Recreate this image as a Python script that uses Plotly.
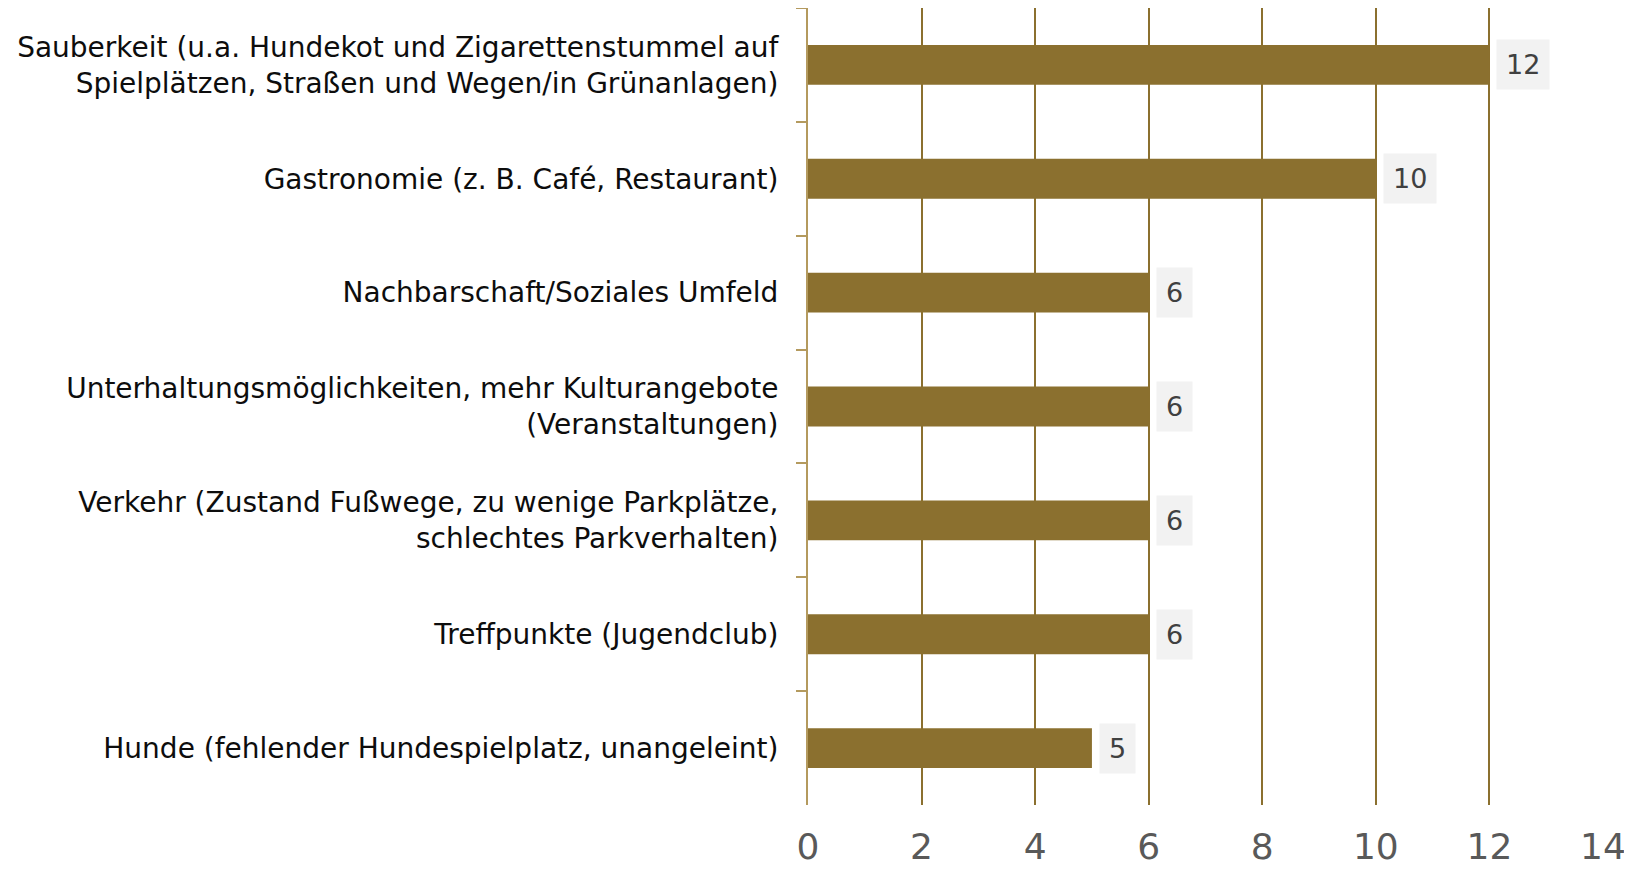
import plotly.graph_objects as go

categories = [
    "Sauberkeit (u.a. Hundekot und Zigarettenstummel auf<br>Spielplätzen, Straßen und Wegen/in Grünanlagen)",
    "Gastronomie (z. B. Café, Restaurant)",
    "Nachbarschaft/Soziales Umfeld",
    "Unterhaltungsmöglichkeiten, mehr Kulturangebote<br>(Veranstaltungen)",
    "Verkehr (Zustand Fußwege, zu wenige Parkplätze,<br>schlechtes Parkverhalten)",
    "Treffpunkte (Jugendclub)",
    "Hunde (fehlender Hundespielplatz, unangeleint)",
]
values = [12, 10, 6, 6, 6, 6, 5]
x_ticks = [0, 2, 4, 6, 8, 10, 12, 14]

BAR = "#8B702F"
GRID = "#8B702F"
AXIS = "#B49A5E"
FONT = "DejaVu Sans"

fig = go.Figure()
fig.add_trace(go.Bar(
    y=categories, x=values, orientation="h",
    marker=dict(color=BAR, line=dict(width=0)),
    hoverinfo="skip",
))

for c, v in zip(categories, values):
    fig.add_annotation(
        x=v, y=c, xref="x", yref="y", text=str(v),
        showarrow=False, xanchor="left", yanchor="middle", xshift=7,
        bgcolor="#F2F2F2", borderpad=9,
        font=dict(family=FONT, size=27, color="#404040"),
    )

# page body has an 8px default margin, so the figure is 8px smaller
fig.update_layout(
    width=1624, height=864,
    margin=dict(l=800, r=29, t=0, b=67, autoexpand=False),
    paper_bgcolor="white", plot_bgcolor="white",
    showlegend=False,
    bargap=0.65,
    font=dict(family=FONT),
)
fig.update_xaxes(
    range=[0, 14], tickvals=x_ticks, ticktext=[str(t) for t in x_ticks],
    showgrid=True, gridcolor=GRID, gridwidth=1.5,
    zeroline=False, showline=False,
    ticks="outside", ticklen=10, tickcolor="rgba(0,0,0,0)",
    tickfont=dict(family=FONT, size=36, color="#595959"),
)
fig.update_yaxes(
    categoryorder="array", categoryarray=categories, autorange="reversed",
    showline=True, linecolor=AXIS, linewidth=2,
    ticks="outside", tickson="boundaries", ticklen=10, tickcolor=AXIS, tickwidth=2,
    showgrid=False, zeroline=False,
    tickfont=dict(family=FONT, size=28, color="#0D0D0D"),
    ticklabelstandoff=22,
)

fig.write_html("out.html")
